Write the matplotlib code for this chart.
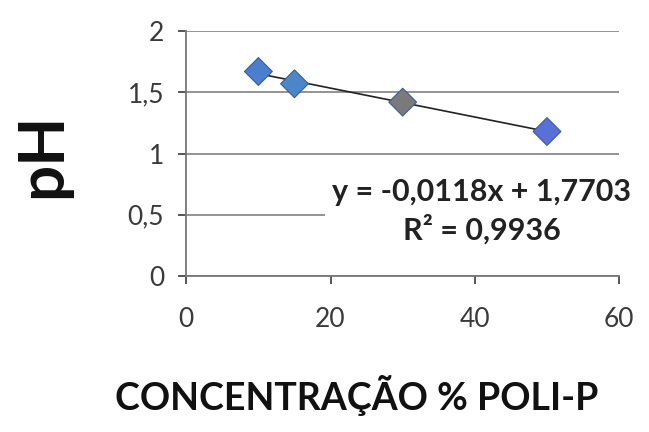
import matplotlib
matplotlib.use("Agg")
import matplotlib.pyplot as plt
import numpy as np

# concentracao de poli-P (%) e pH medido
conc = [10, 15, 30, 50]
ph = [1.67, 1.57, 1.42, 1.18]
cores = ["#4a7fd0", "#4a86c8", "#7a7a7a", "#5a6fd8"]

# linha de tendencia (Excel)
a = -0.0118
b = 1.7703
r2 = 0.9936

xticks = [0, 20, 40, 60]
yticks = [0, 0.5, 1, 1.5, 2]
ylabels = ["0", "0,5", "1", "1,5", "2"]

plt.rcParams['font.family'] = ['Lato', 'DejaVu Sans']

fig = plt.figure(figsize=(6.49, 4.32), dpi=100)
ax = fig.add_axes([0.287, 0.361, 0.667, 0.567])

ax.set_xlim(0, 60)
ax.set_ylim(0, 2)
ax.set_xticks(xticks)
ax.set_yticks(yticks)
ax.set_yticklabels(ylabels)
ax.tick_params(axis='both', labelsize=19, colors='#3a3a3a', length=6, width=1.2, pad=10)
ax.tick_params(axis='x', pad=16)
ax.yaxis.grid(True, color='#8a8a8a', linewidth=1.3)
ax.set_axisbelow(True)
for s in ['top', 'right']:
    ax.spines[s].set_visible(False)
for s in ['left', 'bottom']:
    ax.spines[s].set_color('#777777')
    ax.spines[s].set_linewidth(1.3)

xt = np.array([min(conc), max(conc)])
ax.plot(xt, a * xt + b, color='#222222', linewidth=1.2, zorder=3)
ax.scatter(conc, ph, marker='D', s=200, c=cores, edgecolors='#3a5a9a',
           linewidths=0.8, zorder=4)

eq = "y = " + f"{a:.4f}".replace('.', ',') + "x + " + f"{b:.4f}".replace('.', ',')
ax.text(0.683, 0.265, eq + "\nR² = " + f"{r2:.4f}".replace('.', ','),
        transform=ax.transAxes, ha='center', va='center', fontsize=22,
        fontweight='bold', color='#222222', linespacing=1.3,
        bbox=dict(facecolor='white', edgecolor='none', pad=5), zorder=5,
        clip_on=False)

fig.text(0.066, 0.64, "pH", fontsize=46, fontweight='bold', rotation=90,
         ha='center', va='center', color='#111111')
fig.text(0.55, 0.085, "CONCENTRAÇÃO % POLI-P", fontsize=27, fontweight='bold',
         ha='center', va='center', color='#111111')

fig.savefig("out.png", dpi=100)
